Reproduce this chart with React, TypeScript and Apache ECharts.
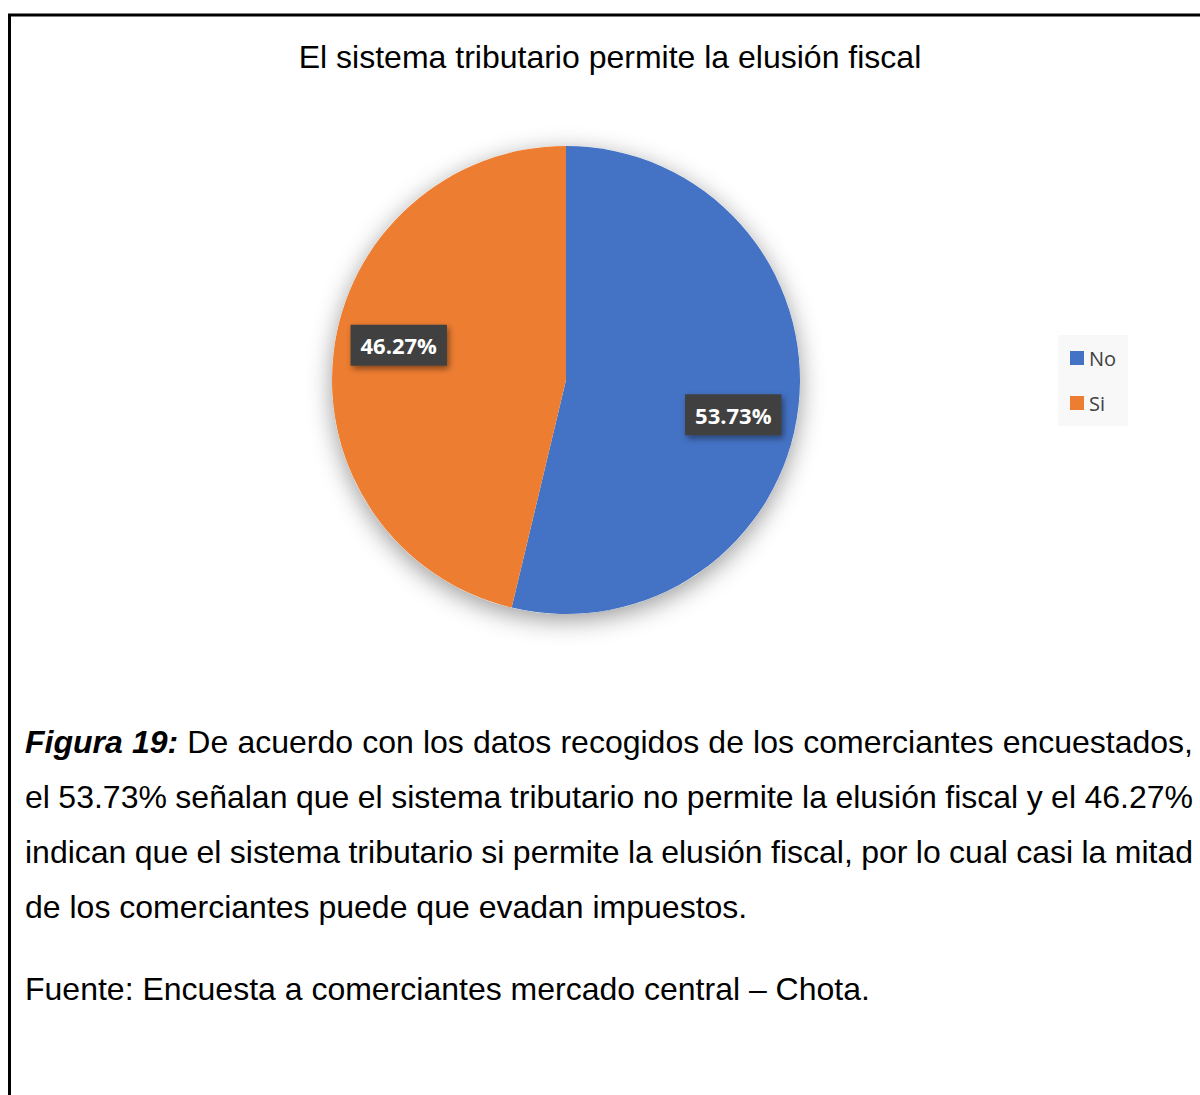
import React, { useEffect, useRef } from "react";
import * as echarts from "echarts";

const categories = ["No", "Si"];
const values = [53.73, 46.27];
const colors = ["#4472C4", "#ED7D31"];
const titleText = "El sistema tributario permite la elusión fiscal";
const captionLead = "Figura 19:";
const captionLines = [
  "De acuerdo con los datos recogidos de los comerciantes encuestados,",
  "el 53.73% señalan que el sistema tributario no permite la elusión fiscal y el 46.27%",
  "indican que el sistema tributario si permite la elusión fiscal, por lo cual casi la mitad",
  "de los comerciantes puede que evadan impuestos.",
];
const sourceText = "Fuente: Encuesta a comerciantes mercado central – Chota.";

const CX = 566;
const CY = 380;
const R = 234;
const FONT = "Arial, Liberation Sans, sans-serif";
const CAP_SIZE = 32;
const TEXT_LEFT = 25;
const TEXT_RIGHT = 1193;

function fontStr(bold: boolean) {
  return `${bold ? "italic bold " : ""}${CAP_SIZE}px ${FONT}`;
}

function buildCaption(): any[] {
  const canvas = document.createElement("canvas");
  const ctx = canvas.getContext("2d") as CanvasRenderingContext2D;
  const measure = (t: string, bold: boolean) => {
    ctx.font = fontStr(bold);
    return ctx.measureText(t).width;
  };
  const els: any[] = [];
  const baselines = [753, 808, 863, 918];
  captionLines.forEach((line, li) => {
    const words: { t: string; bold: boolean }[] = [];
    if (li === 0) captionLead.split(" ").forEach((w) => words.push({ t: w, bold: true }));
    line.split(" ").forEach((w) => words.push({ t: w, bold: false }));
    const widths = words.map((w) => measure(w.t, w.bold));
    const sum = widths.reduce((a, b) => a + b, 0);
    const justify = li < captionLines.length - 1;
    const gap = justify ? (TEXT_RIGHT - TEXT_LEFT - sum) / (words.length - 1) : measure(" ", false);
    let x = TEXT_LEFT;
    words.forEach((w, i) => {
      els.push({
        type: "text",
        x,
        y: baselines[li] - 11,
        silent: true,
        style: {
          text: w.t,
          font: fontStr(w.bold),
          fill: "#000",
          textAlign: "left",
          verticalAlign: "middle",
        },
      });
      x += widths[i] + gap;
    });
  });
  els.push({
    type: "text",
    x: TEXT_LEFT,
    y: 999 - 10,
    silent: true,
    style: {
      text: sourceText,
      font: fontStr(false),
      fill: "#000",
      textAlign: "left",
      verticalAlign: "middle",
    },
  });
  return els;
}

export default function App() {
  const ref = useRef<HTMLDivElement>(null);
  useEffect(() => {
    if (!ref.current) return;
    const chart = echarts.init(ref.current, undefined, { renderer: "svg" });
    const total = values.reduce((a, b) => a + b, 0);
    const starts: number[] = [];
    let acc = 0;
    values.forEach((v) => {
      starts.push(acc);
      acc += v;
    });
    const option: any = {
      animation: false,
      backgroundColor: "#fff",
      title: {
        text: titleText,
        left: 605,
        textAlign: "center",
        top: 36,
        textStyle: { fontFamily: FONT, fontSize: 32, fontWeight: "normal", color: "#000" },
      },
      legend: {
        data: categories,
        orient: "vertical",
        left: 1058,
        top: 335,
        backgroundColor: "#F8F8F8",
        padding: [13, 12, 13, 12],
        itemGap: 25,
        itemWidth: 14,
        itemHeight: 14,
        icon: "rect",
        selectedMode: false,
        textStyle: { fontFamily: "Open Sans, sans-serif", fontSize: 20, color: "#404040" },
      },
      series: [
        {
          type: "pie",
          silent: true,
          center: [CX, CY],
          radius: R,
          z: 1,
          label: { show: false },
          labelLine: { show: false },
          itemStyle: {
            color: "#fff",
            shadowBlur: 24,
            shadowOffsetY: 6,
            shadowColor: "rgba(0,0,0,0.4)",
          },
          data: [{ value: 1, name: "__shadow" }],
        },
        {
          type: "pie",
          z: 2,
          center: [CX, CY],
          radius: R,
          startAngle: 90,
          clockwise: true,
          emphasis: { disabled: true },
          label: {
            show: true,
            position: "inside",
            formatter: (p: any) => `${Number(p.value).toFixed(2)}%`,
            color: "#fff",
            fontFamily: "Open Sans, sans-serif",
            fontWeight: "bold",
            fontSize: 22,
            lineHeight: 22,
            backgroundColor: "#404040",
            padding: [9, 10, 10, 10],
            shadowBlur: 6,
            shadowOffsetX: 2,
            shadowOffsetY: 3,
            shadowColor: "rgba(0,0,0,0.45)",
          },
          labelLine: { show: false },
          labelLayout: (params: any) => {
            const i = params.dataIndex;
            const mid = ((starts[i] + values[i] / 2) / total) * 360 + 5;
            const rad = (mid * Math.PI) / 180;
            const k = 0.73 * R;
            return {
              x: CX + k * Math.sin(rad),
              y: CY - k * Math.cos(rad),
              align: "center",
              verticalAlign: "middle",
            };
          },
          data: categories.map((c, i) => ({
            name: c,
            value: values[i],
            itemStyle: { color: colors[i] },
          })),
        },
      ],
      graphic: [
        {
          type: "rect",
          shape: { x: 9.5, y: 15, width: 1400, height: 1400 },
          style: { fill: "none", stroke: "#000", lineWidth: 3 },
          silent: true,
        },
        ...buildCaption(),
      ],
    };
    chart.setOption(option);
    return () => chart.dispose();
  }, []);
  return (
    <div
      ref={ref}
      style={{ position: "fixed", left: 0, top: 0, width: 1200, height: 1095 }}
    />
  );
}
